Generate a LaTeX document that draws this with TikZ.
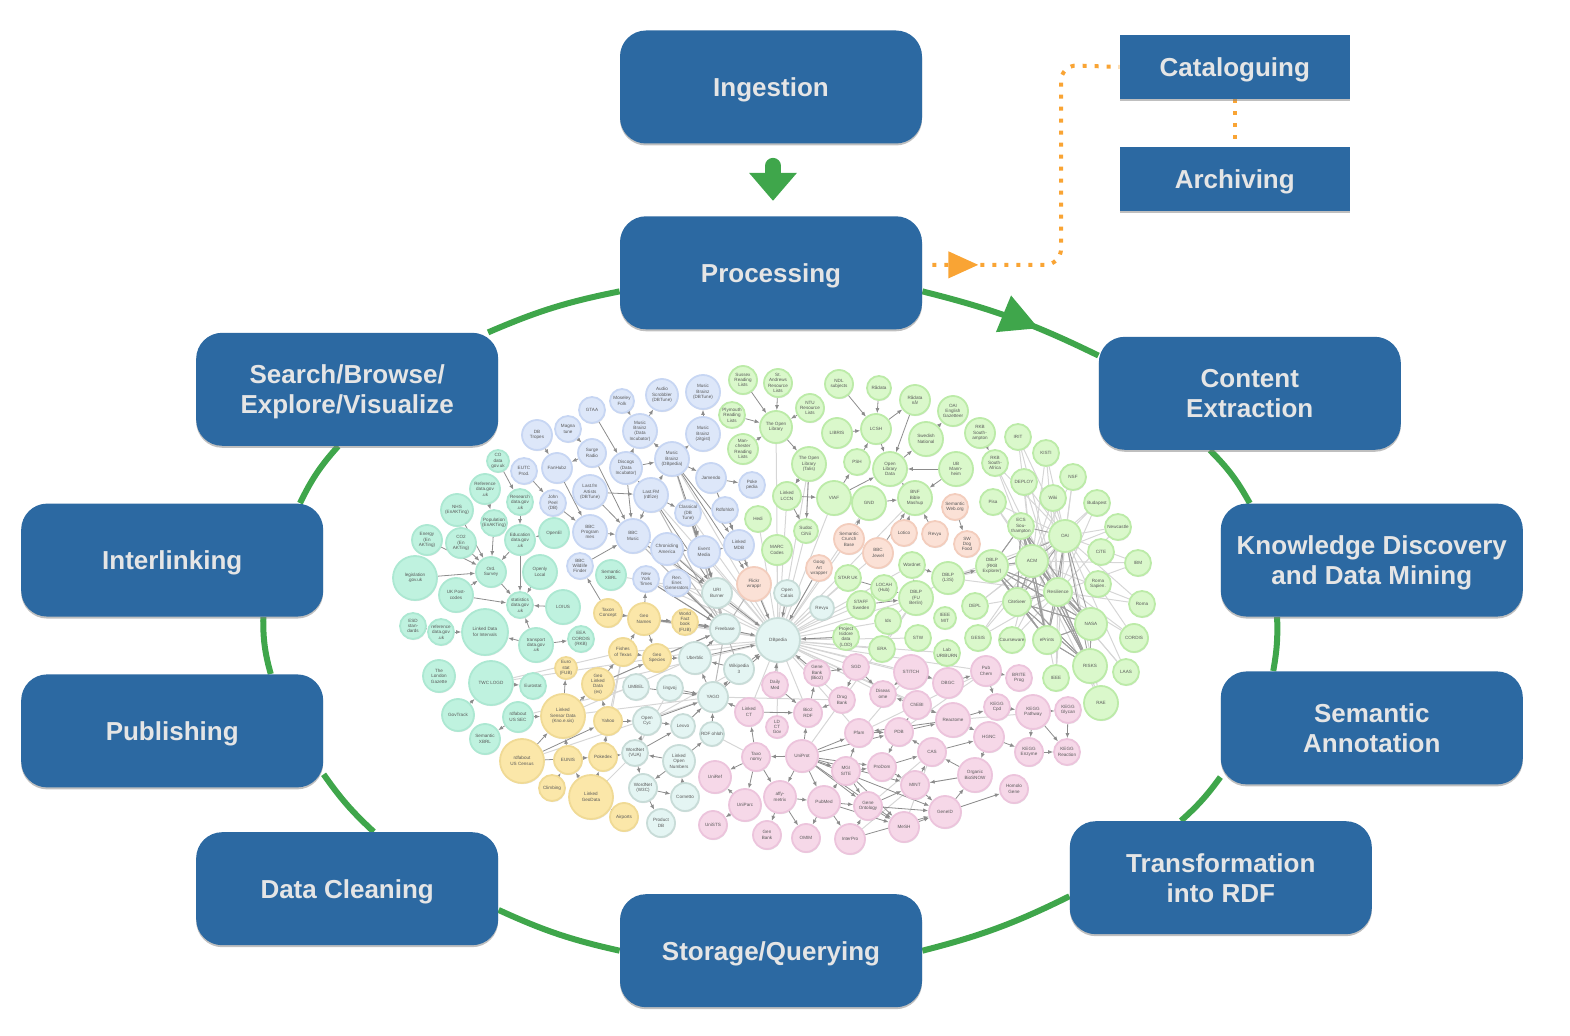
\documentclass[tikz,border=0pt]{standalone}
\usepackage{fontspec}
\setmainfont{Liberation Sans}
\usetikzlibrary{%
  positioning
 ,arrows.meta
 ,shadows
 ,decorations.markings
}
\definecolor{boxblue}{HTML}{2C69A2}
\definecolor{ringgreen}{HTML}{3FA64B}
\definecolor{dotorange}{HTML}{F9A434}
\tikzstyle{stage}=[rounded corners=13pt,fill=boxblue,text=white!90!black,inner sep=0pt,
  minimum width=151pt,minimum height=56.5pt,align=center,text depth=0pt,
  font=\bfseries\fontsize{13}{15}\selectfont,
  drop shadow={shadow xshift=0pt,shadow yshift=-1pt,opacity=.5}]
\tikzstyle{shelf}=[stage,rounded corners=0pt,minimum width=115pt,minimum height=32pt]
\tikzstyle{lod}=[circle,inner sep=0pt,line width=.9pt,align=center,text=black!65,
  font=\fontsize{2.3}{2.7}\selectfont,
  drop shadow={shadow xshift=.3pt,shadow yshift=-.6pt,opacity=.2}]
\tikzstyle{blu}=[fill={rgb,255:red,221;green,231;blue,249},draw={rgb,255:red,199;green,214;blue,243}]
\tikzstyle{mnt}=[fill={rgb,255:red,191;green,242;blue,223},draw={rgb,255:red,172;green,232;blue,210}]
\tikzstyle{ylw}=[fill={rgb,255:red,251;green,231;blue,169},draw={rgb,255:red,240;green,218;blue,149}]
\tikzstyle{tea}=[fill={rgb,255:red,228;green,245;blue,243},draw={rgb,255:red,200;green,220;blue,216}]
\tikzstyle{org}=[fill={rgb,255:red,251;green,225;blue,214},draw={rgb,255:red,243;green,205;blue,189}]
\tikzstyle{grn}=[fill={rgb,255:red,218;green,248;blue,203},draw={rgb,255:red,188;green,235;blue,168}]
\tikzstyle{pnk}=[fill={rgb,255:red,246;green,216;blue,232},draw={rgb,255:red,236;green,196;blue,220}]
\tikzstyle{lnk}=[-{Latex[length=2.5pt,width=2pt]},draw=black!45,line width=.4pt]
\tikzstyle{fnt}=[draw=black!16,line width=.5pt]
\tikzstyle{ring}=[draw=ringgreen,line width=3pt]
\tikzstyle{dots}=[draw=dotorange,line width=2pt,dash pattern=on 2pt off 4pt]
\pgfdeclarelayer{bg}
\pgfsetlayers{bg,main}
\begin{document}
\begin{tikzpicture}[x=0.5pt,y=-0.5pt]
  \useasboundingbox (0,0) rectangle (1570,1036);
  % the stages
  \node[stage](ingest) at (771,87){Ingestion};
  \node[stage,below=36pt of ingest](process){Processing};
  \node[shelf,right=98.5pt of ingest,yshift=10pt](catalog){Cataloguing};
  \node[shelf,below=23.5pt of catalog](archive){Archiving};
  \node[stage,right=88pt of process,yshift=-60.25pt](content){Content\\Extraction};
  \node[stage,below=26.5pt of content,xshift=61pt](mining){Knowledge Discovery\\and Data Mining};
  \node[stage,below=27pt of mining](annotate){Semantic\\Annotation};
  \node[stage,below=18pt of annotate,xshift=-75.5pt](rdf){Transformation\\into RDF};
  \node[stage,left=73.5pt of rdf,yshift=-36.5pt](storage){Storage/Querying};
  \node[stage,left=60.5pt of storage,yshift=31pt](clean){Data Cleaning};
  \node[stage,above=22pt of clean,xshift=-87.5pt](publish){Publishing};
  \node[stage,above=28.5pt of publish](interlink){Interlinking};
  \node[stage,above=28.5pt of interlink,xshift=87.5pt,text depth=-4pt](search){Search/Browse/\\Explore/Visualize};
  % the cloud
  \foreach \n/\x/\y/\r/\t in {
    b1/662/395/16/{Audio\\Scrobbler\\(DBTune)},b2/622/401/12/{Moseley\\Folk},b3/703/392/17/{Music\\Brainz\\(DBTune)},
    b4/592/410/13/{GTAA},b5/568/429/13/{Magna\\tune},b6/537/435/15/{DB\\Tropes},b7/640/431/17/{Music\\Brainz\\(Data\\Incubator)},
    b8/703/434/17/{Music\\Brainz\\(zitgist)},b9/592/453/14/{Surge\\Radio},b10/557/468/15/{FanHubz},b11/524/471/13/{EUTC\\Prod.},
    b12/626/468/16/{Discogs\\(Data\\Incubator)},b13/672/459/17/{Music\\Brainz\\(DBpedia)},b14/711/478/15/{Jamendo},b15/752/485/13/{Poke\\pedia},
    b16/590/492/17/{Last.fm\\Artists\\(DBTune)},b17/651/495/17/{Last.FM\\(rdfize)},b18/553/503/13/{John\\Peel\\(DB)},b19/688/513/13/{Classical\\(DB\\Tune)},
    b20/725/510/13/{Rdfohloh},b21/590/532/17/{BBC\\Program\\mes},b22/633/536/17/{BBC\\Music},b23/667/549/16/{Chronicling\\America},
    b24/704/552/16/{Event\\Media},b25/739/545/15/{Linked\\MDB},b26/580/566/13/{BBC\\Wildlife\\Finder},b27/646/579/13/{New\\York\\Times},b28/677/583/13/{Ren.\\Ener.\\Generators}}
    \node[lod,blu,minimum size=\r pt](\n) at (\x,\y){\t};
  \foreach \n/\x/\y/\r/\t in {
    m1/498/461/11/{CO\\data\\gov.uk},m2/485/489/15/{Reference\\data.gov\\.uk},m3/520/502/13/{Research\\data.gov\\.uk},m4/457/510/16/{NHS\\(EnAKTing)},
    m5/494/523/13/{Population\\(EnAKTing)},m6/520/540/15/{Education\\data.gov\\.uk},m7/554/533/15/{OpenEl},m8/427/540/15/{Energy\\(En\\AKTing)},
    m9/461/543/15/{CO2\\(En\\AKTing)},m10/415/578/22/{legislation\\.gov.uk},m11/491/572/15/{Ord.\\Survey},m12/540/572/17/{Openly\\Local},
    m13/456/595/17/{UK Post-\\codes},m14/520/605/13/{statistics\\data.gov\\.uk},m15/563/607/17/{LOIUS},m16/611/575/15/{Semantic\\XBRL},
    m17/413/626/13/{ESD\\stan-\\dards},m18/441/632/13/{reference\\data.gov\\.uk},m19/485/632/23/{Linked Data\\for Intervals},m20/536/645/17/{transport\\data.gov\\.uk},
    m21/581/639/13/{EEA\\CORDIS\\(RKB)},m22/439/676/16/{The\\London\\Gazette},m23/491/683/22/{TWC LOGD},m24/533/686/13/{Eurostat},
    m25/458/715/16/{GovTrack},m26/518/717/15/{rdfabout\\US SEC},m27/485/739/15/{Semantic\\XBRL}}
    \node[lod,mnt,minimum size=\r pt](\n) at (\x,\y){\t};
  \foreach \n/\x/\y/\r/\t in {
    y1/608/613/14/{Taxon\\Concept},y2/644/619/16/{Geo\\Names},y3/685/622/13/{World\\Fact\\book\\(FUB)},y4/623/652/14/{Fishes\\of Texas},
    y5/657/658/14/{Geo\\Species},y6/566/668/11/{Euro\\stat\\(FUB)},y7/598/684/16/{Geo\\Linked\\Data\\(es)},y8/563/716/22/{Linked\\Sensor Data\\(Kno.e.sis)},
    y9/608/721/14/{Yahoo},y10/522/761/22/{rdfabout\\US Census},y11/568/760/14/{EUNIS},y12/603/757/14/{Pokedex},
    y13/552/788/13/{Climbing},y14/591/797/22/{Linked\\GeoData},y15/624/817/14/{Airports}}
    \node[lod,ylw,minimum size=\r pt](\n) at (\x,\y){\t};
  \foreach \n/\x/\y/\r/\t in {
    t1/725/629/15/{Freebase},t2/778/640/22/{DBpedia},t3/717/593/15/{URI\\Burner},t4/787/593/13/{Open\\Calais},t5/822/608/12/{Revyu},
    t6/695/658/16/{Uberblic},t7/739/669/15/{Wikipedia\\3},t8/713/697/15/{YAGO},t9/636/687/13/{UMBEL},t10/670/688/13/{lingvoj},
    t11/647/721/14/{Open\\Cyc},t12/683/726/12/{Lexvo},t13/712/734/12/{RDF ohloh},t14/635/753/13/{WordNet\\(VUA)},t15/679/761/16/{Linked\\Open\\Numbers},
    t16/643/788/14/{WordNet\\(W3C)},t17/685/797/14/{Cornetto},t18/661/823/14/{Product\\DB}}
    \node[lod,tea,minimum size=\r pt](\n) at (\x,\y){\t};
  \foreach \n/\x/\y/\r/\t in {
    o1/754/584/17/{Flickr\\wrappr},o2/819/568/13/{Goog\\Art\\wrapper},o3/849/539/15/{Semantic\\Crunch\\Base},o4/878/553/15/{BBC\\Jewel},
    o5/904/533/13/{Lotico},o6/935/534/13/{Revyu},o7/955/507/13/{Semantic\\Web.org},o8/967/544/13/{SW\\Dog\\Food}}
    \node[lod,org,minimum size=\r pt](\n) at (\x,\y){\t};
  \foreach \n/\x/\y/\r/\t in {
    g1/743/380/14/{Sussex\\Reading\\Lists},g2/778/383/14/{St.\\Andrews\\Resource\\Lists},g3/732/415/13/{Plymouth\\Reading\\Lists},g4/776/427/16/{The Open\\Library},
    g5/743/449/15/{Man-\\chester\\Reading\\Lists},g6/787/496/14/{Linked\\LCCN},g7/758/519/13/{Hedi},g8/777/550/15/{MARC\\Codes},
    g9/810/408/14/{NTU\\Resource\\Lists},g10/839/384/14/{NDL\\subjects},g11/879/388/12/{Rådata},g12/915/400/15/{Rådata\\nå!},
    g13/953/411/15/{OAI\\English\\Gazetteer},g14/980/433/15/{RKB\\South-\\ampton},g15/1018/437/13/{IRIT},g16/1046/453/13/{KISTI},
    g17/1073/477/13/{NSF},g18/1097/503/13/{Budapest},g19/1118/527/13/{Newcastle},g20/1138/563/13/{IBM},
    g21/809/464/17/{The Open\\Library\\(Talis)},g22/837/433/15/{LIBRIS},g23/876/429/15/{LCSH},g24/926/439/17/{Swedish\\National},
    g25/857/462/13/{PSH},g26/890/469/17/{Open\\Library\\Data},g27/956/469/17/{UB\\Mann-\\heim},g28/995/463/13/{RKB\\South-\\Africa},
    g29/1024/482/13/{DEPLOY},g30/1053/498/13/{Wiki},g31/993/502/13/{Pisa},g32/834/498/17/{VIAF},
    g33/869/503/17/{GND},g34/915/498/17/{BNF\\Bible\\Mashup},g36/806/531/12/{Sudoc\\CiNii},g37/1021/526/13/{ECS\\Sou-\\thampton},
    g38/1065/536/16/{OAI},g39/1101/552/13/{CiTE},g40/1032/561/16/{ACM},g41/992/566/16/{DBLP\\(RKB\\Explorer)},
    g42/912/565/13/{Wordnet},g43/948/578/16/{DBLP\\(L3S)},g44/1098/584/13/{Roma\\Sapien.},g45/1058/592/14/{Resilience},
    g46/1017/602/14/{CiteSeer},g47/1142/604/13/{Roma},g48/848/578/13/{STAR UK},g49/884/588/13/{LOCAH\\(Hub)},
    g50/861/605/14/{STAFF\\Sweden},g51/916/598/17/{DBLP\\(FU\\Berlin)},g52/975/606/13/{DEPL},g53/888/621/13/{Ids},
    g54/945/618/11/{IEEE\\MIT},g55/846/637/13/{Project\\Isidore\\data\\(LOD)},g56/882/649/13/{ERA},g57/918/638/13/{STW},
    g58/947/653/13/{Lab\\URIBURN},g59/978/638/13/{GESIS},g60/1012/640/13/{Courseware},g61/1047/640/14/{ePrints},
    g62/1091/624/16/{NASA},g63/1134/638/14/{CORDIS},g64/1090/666/17/{RISKS},g65/1126/672/13/{LAAS},
    g66/1056/678/13/{IEEE},g67/1101/703/17/{RAE}}
    \node[lod,grn,minimum size=\r pt](\n) at (\x,\y){\t};
  \foreach \n/\x/\y/\r/\t in {
    p1/856/667/13/{SGD},p2/817/673/13/{Gene\\Bank\\(Bio2)},p3/911/672/17/{STITCH},p4/948/683/15/{DBGC},p5/986/671/15/{Pub\\Chem},
    p6/1019/678/13/{BRITE\\Prog},p7/775/685/13/{Daily\\Med},p8/883/694/13/{Diseas\\ome},p9/842/700/13/{Drug\\Bank},p10/917/705/14/{ChEBI},
    p11/997/707/13/{KEGG\\Cpd},p12/1033/712/17/{KEGG\\Pathway},p13/1068/710/13/{KEGG\\Glycan},p14/749/712/14/{Linked\\CT},p15/808/713/14/{Bio2\\RDF},
    p16/777/727/11/{LD\\CT\\Gov},p17/953/720/17/{Reactome},p18/859/733/14/{Pfam},p19/899/732/14/{PDB},p20/989/737/15/{HGNC},
    p21/932/752/14/{CAS},p22/1029/752/14/{KEGG\\Enzyme},p23/1067/752/13/{KEGG\\Reaction},p24/756/757/14/{Taxo\\nomy},p25/802/756/16/{UniProt},
    p26/846/771/14/{MGI\\SITE},p27/882/767/14/{ProDom},p28/715/777/16/{UniRef},p29/975/775/17/{Organic\\BioSNOW},p30/915/785/14/{MINT},
    p31/1014/789/14/{Homolo\\Gene},p32/780/797/16/{affy-\\metrix},p33/745/805/16/{UniParc},p34/824/802/16/{PubMed},p35/868/806/14/{Gene\\Ontology},
    p36/945/812/16/{GeneID},p37/713/825/14/{UniSTS},p38/904/827/15/{MeSH},p39/767/835/14/{Gen\\Bank},p40/806/838/14/{OMIM},p41/850/839/15/{InterPro}}
    \node[lod,pnk,minimum size=\r pt](\n) at (\x,\y){\t};

  \coordinate(kink) at (1061,65);
  \begin{pgfonlayer}{bg}
    % faint spokes and links
    \foreach \a in {b13,b14,b17,b19,b20,b22,b23,b24,b25,b27,b28,g4,g6,g7,g8,g21,g32,g33,g36,o2,o3,o4,g34,g48,g49,g50,g51,g53,g42,
                    g55,g56,g57,g58,p1,p2,p3,p4,p5,p7,p8,p9,p14,p15,p16,p17,p10,p18,y1,y2,y3,y4,y5,y7,t4,t5,t3,o1}
      \draw[fnt](t2)--(\a);
    \foreach \a in {b17,b19,b22,b23,b24,b28,b27,y2,y3,y5,t3,t6,t7,t8,y1,o1,b13}
      \draw[fnt,draw=black!28](t1)--(\a);
    \foreach \a in {g29,g30,g31,g15,g16,g28,g17,g18,g19,g20,g47,g63,g65,g67,g66,g60,g59,g52,g43}
      {\draw[fnt](g38)--(\a);\draw[fnt](g45)--(\a);\draw[fnt](g40)--(\a);}
    \foreach \a/\b in {y8/t6,y8/t8,y7/t1,y9/y4,y12/y4,y10/t8,y14/t14,t14/t10,m23/y5,m23/y4,m26/t9,p25/g51,p18/p3,p18/p5,p19/p5,p17/p13,
                       p30/p29,p35/p21,p41/p30,p38/p21,g36/g21,g51/g43,g51/g56,g51/g53,g43/g41,t8/p14,t13/p24,t8/p9,t12/t8,t11/t7,m16/t3}
      \draw[fnt](\a)--(\b);
    % the dark links
    \foreach \a in {g37,g40,g41,g45,g46,g61,g62,g64}
      \foreach \b in {g37,g40,g41,g45,g46,g61,g62,g64,g38}
        \draw[fnt,draw=black!38,line width=.45pt](\a)--(\b);
    \foreach \a/\b in {b7/b1,b8/b3,b13/b7,b13/b8,b12/b7,b12/b13,b9/b22,b12/b22,b16/b22,b17/b22,b17/b13,b17/b12,b16/b17,b21/b22,
                       b13/b14,b13/b25,b14/b15,b4/b12,b2/b7,b10/b21,b9/b10,b11/b18,b18/b21,b6/b10,b22/b23,b23/b24,b24/b25,b19/b24,
                       b20/b25,b14/b25,b13/b24,b17/b19,b17/t3,b22/t3,b23/t3,b24/t3,b25/o1,b28/t1,b27/t1,b26/b22,b5/b9,b13/o1,b19/t3,
                       m10/m11,m13/m11,m13/m14,m8/m11,m9/m11,m4/m11,m5/m11,m3/m6,m20/m14,m20/m19,m18/m19,m17/m18,m6/m14,m6/m11,
                       m7/m6,m25/m23,m20/m21,m26/m27,m23/m24,m12/m14,m15/m14,m26/y8,m2/m5,m1/m3,m11/m14,
                       y8/y7,y8/y6,y10/y8,y9/y7,y11/y8,y13/y11,y14/y12,y15/y14,y12/t14,y9/t11,y7/y4,y4/y5,y2/y5,y1/y2,y2/y3,y5/t6,y7/y5,
                       y4/y2,y2/t1,y3/t1,y5/t1,y2/b27,y1/b26,y12/y9,y10/y9,y14/y11,y10/y12,
                       t8/t7,t8/t6,t6/t1,t1/t2,t7/t2,t6/t2,t8/t2,t9/t8,t10/t8,t11/t8,t12/t8,t13/t8,t14/t11,t14/t12,t15/t14,t15/t16,t16/t17,
                       t14/t16,t15/t13,t17/t15,t3/t2,t4/t2,o1/t2,t16/t18,t7/t6,t11/t12,
                       o4/g34,o5/g34,o6/g34,o7/o8,o2/t2,o3/g33,g1/g4,g3/g4,g5/g4,g2/g4,g4/g21,g9/g4,g21/g6,g6/g32,g22/g23,g10/g23,g11/g23,
                       g23/g12,g23/g26,g25/g23,g26/g24,g12/g26,g24/g13,g14/g28,g27/g26,g27/g34,g34/g26,g33/g34,g32/g26,g32/g33,g32/g25,
                       g6/g36,g21/g36,g43/g41,g42/g43,g51/g42,g50/g51,g48/g51,g21/g6,g55/t2,
                       p25/p24,p25/p15,p25/p18,p25/p26,p25/p27,p25/p32,p25/p34,p25/p35,p25/p30,p25/p36,p25/p19,p25/p38,
                       p24/p28,p24/p33,p24/p32,p24/p14,p34/p35,p35/p36,p35/p38,p34/p41,p34/p40,p34/p38,p32/p39,p32/p40,p32/p34,p33/p28,
                       p33/p37,p18/p19,p19/p17,p19/p10,p10/p17,p10/p8,p17/p11,p17/p20,p11/p12,p12/p13,p12/p23,p12/p22,p5/p6,p3/p4,p4/p5,
                       p5/p11,p3/p8,p2/p1,p1/p8,p1/p9,p9/p15,p7/p15,p14/p15,p15/p2,p36/p31,p36/p29,p29/p30,p29/p21,p30/p21,p21/p19,p21/p20,
                       p20/p29,p20/p22,p22/p23,p13/p23,p26/p18,p26/p27,p27/p30,p27/p21,p26/p35,p26/p38,p30/p36,p41/p35,p41/p36,p38/p36,p19/p27,
                       p17/p18,p35/p30,p34/p26,p7/t2,p2/t2,p14/t8}
      \draw[lnk](\a)--(\b);
    % the ring
    \draw[ring,postaction={decorate},decoration={markings,
        mark=at position .65 with {\arrow{Triangle[length=19pt,width=19pt]}}}]
      (process.-7.5) to[bend left=6] (content.166.8);
    \draw[ring] (content.-125.3) to[bend left=8] (mining.155.3);
    \draw[ring] (mining.-149) to[bend left=6] (annotate.150.9);
    \draw[ring] (annotate.-162) to[bend left=6] (rdf.125);
    \draw[ring] (rdf.187.7) to[bend left=6] (storage.0);
    \draw[ring] (storage.180) to[bend left=6] (clean.-8.1);
    \draw[ring] (clean.65.3) to[bend left=6] (publish.-16.8);
    \draw[ring] (publish.30.5) to[bend left=8] (interlink.-32);
    \draw[ring] (interlink.24.3) to[bend left=8] (search.-99);
    \draw[ring] (search.22) to[bend left=6] (process.187.5);
    % the dotted side branch
    \draw[dots,rounded corners=8pt,shorten <=5pt,postaction={decorate},decoration={markings,
        mark=at position 28pt with {\arrow{Triangle[length=15pt,width=13pt]}}}]
      (process.3) -| (kink) -- (catalog.west);
    \draw[dots] (catalog.south) -- (archive.north);
  \end{pgfonlayer}
  \draw[draw=ringgreen,line width=8pt,line cap=round,shorten <=11pt,shorten >=7.5pt,
        -{Triangle[length=14pt,width=23pt]}]
    ([xshift=1pt]ingest.south) -- ([xshift=1pt]process.north);
\end{tikzpicture}
\end{document}
